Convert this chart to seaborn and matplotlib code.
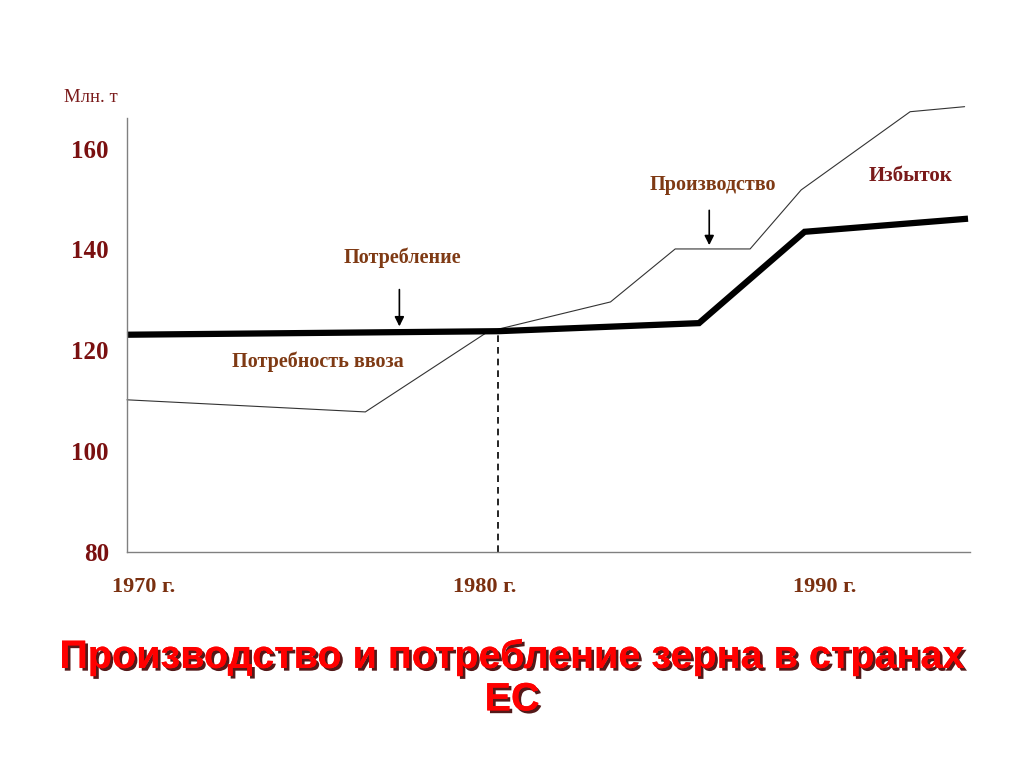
import pandas as pd
import numpy as np
import matplotlib.pyplot as plt
import matplotlib.patheffects as pe
import seaborn as sns

# Consumption (thick line) and production (thin line), mln t
cons_years = [1969.5, 1980.4, 1986.3, 1989.4, 1994.2]
cons_values = [123.1, 123.8, 125.4, 143.5, 146.1]
prod_years = [1969.5, 1976.5, 1980.1, 1983.7, 1985.6, 1987.8, 1989.3, 1992.5, 1994.1]
prod_values = [110.2, 107.8, 123.7, 129.6, 140.1, 140.1, 151.8, 167.3, 168.3]

year_ticks = [1970, 1980, 1990]
year_labels = ["1970 г.", "1980 г.", "1990 г."]
value_ticks = [80, 100, 120, 140, 160]
crossing_year = 1980.4

cons = pd.DataFrame({"year": cons_years, "value": cons_values})
prod = pd.DataFrame({"year": prod_years, "value": prod_values})

sns.set_style("white")
plt.rcParams["font.family"] = ["Liberation Serif", "DejaVu Serif"]

fig = plt.figure(figsize=(10.24, 7.68), dpi=100)
ax = fig.add_axes([0.124, 0.281, 0.823, 0.565])

sns.lineplot(data=prod, x="year", y="value", ax=ax, color="#333333", linewidth=0.8,
             estimator=None, sort=False, clip_on=False)
sns.lineplot(data=cons, x="year", y="value", ax=ax, color="black", linewidth=4.5,
             estimator=None, sort=False, clip_on=False, solid_joinstyle="miter",
             solid_capstyle="butt")
ax.plot([crossing_year, crossing_year], [80, cons_values[1]], color="black",
        linestyle=(0, (4, 3)), linewidth=1.2)

ax.set_xlim(1969.5, 1994.25)
ax.set_ylim(80, 166)
ax.set_xticks(year_ticks)
ax.set_xticklabels(year_labels, fontsize=16, fontweight="bold", color="#7a3010")
ax.set_yticks(value_ticks)
ax.set_yticklabels([str(v) for v in value_ticks], fontsize=18, fontweight="bold", color="#7a1010")
ax.tick_params(axis="both", length=0)
ax.tick_params(axis="x", pad=18)
ax.tick_params(axis="y", pad=13)
ax.set_xlabel("")
ax.set_ylabel("")
for side in ["top", "right"]:
    ax.spines[side].set_visible(False)
for side in ["left", "bottom"]:
    ax.spines[side].set_color("#808080")
    ax.spines[side].set_linewidth(1.0)

brown = "#7f3a14"
arrow = dict(arrowstyle="-|>", color="black", lw=1.2, mutation_scale=14)
ax.annotate("", xy=(1977.5, 124.2), xytext=(1977.5, 132.6), arrowprops=arrow)
ax.text(1977.6, 138.3, "Потребление", ha="center", va="center", fontsize=14.5,
        fontweight="bold", color=brown)
ax.annotate("", xy=(1986.6, 140.3), xytext=(1986.6, 148.3), arrowprops=arrow)
ax.text(1986.7, 152.8, "Производство", ha="center", va="center", fontsize=14.5,
        fontweight="bold", color=brown)
ax.text(1992.5, 154.6, "Избыток", ha="center", va="center", fontsize=15,
        fontweight="bold", color="#7a1a1a")
ax.text(1975.1, 117.7, "Потребность ввоза", ha="center", va="center", fontsize=14.5,
        fontweight="bold", color=brown)

fig.text(91 / 1024, 1 - 97 / 768, "Млн. т", ha="center", va="center", fontsize=13.5,
         color="#7a1a1a")

title = fig.text(0.5, 1 - 678 / 768, "Производство и потребление зерна в странах\nЕС",
                 ha="center", va="center", fontsize=28.5, fontweight="bold", color="#ff0000",
                 family=["Liberation Sans", "DejaVu Sans"], linespacing=1.15)
title.set_path_effects([pe.withSimplePatchShadow(offset=(2, -2), shadow_rgbFace="#400000", alpha=0.9),
                        pe.Normal()])

plt.savefig("out.png", dpi=100)
